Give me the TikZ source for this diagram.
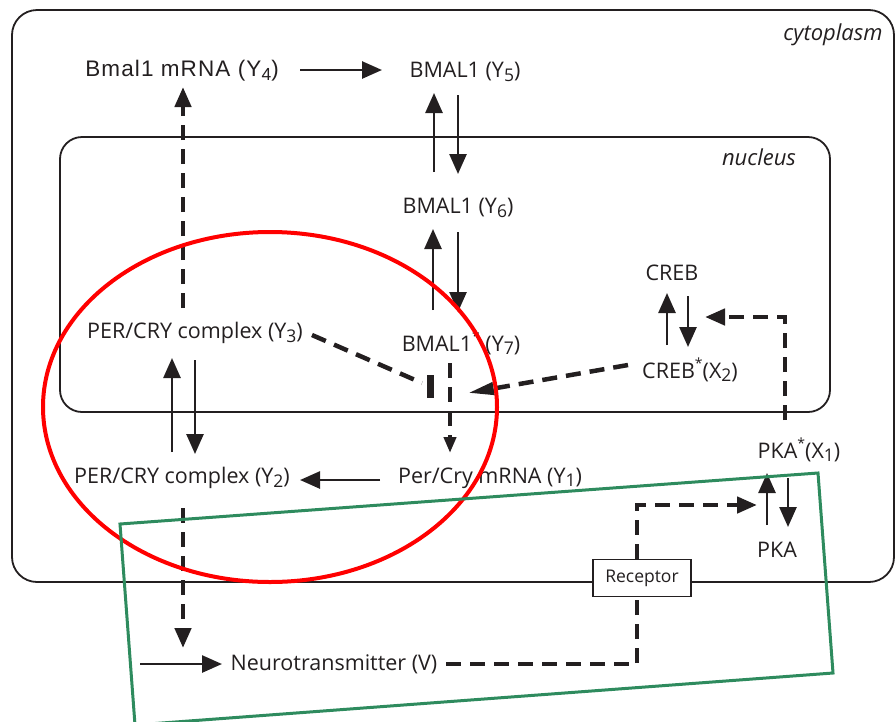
\documentclass[tikz,border=0pt]{standalone}
\usepackage{fontspec}
\setmainfont{Open Sans}
\newfontfamily\arialfont{Liberation Sans}[LetterSpace=5]
\usetikzlibrary{arrows.meta,calc}
\definecolor{ink}{HTML}{231F20}
\definecolor{grn}{HTML}{2E8B5E}
\newcommand\subsc[1]{\raisebox{-0.3ex}{\fontsize{17.5}{17.5}\selectfont #1}}
\newcommand\supst{\raisebox{0.85ex}{\fontsize{14}{14}\selectfont *}}
\begin{document}
\begin{tikzpicture}[x=1pt,y=-1pt,
  lbl/.style={inner sep=0pt, text=ink, font=\fontsize{21.5}{23}\selectfont},
  region/.style={draw=ink, line width=1.8pt},
  arr/.style={draw=ink, line width=2.6pt, -{Triangle[length=20pt,width=17pt]}},
  darr/.style={draw=ink, line width=4.5pt, dash pattern=on 15pt off 9pt, -{Triangle[length=20pt,width=16pt]}},
  dline/.style={draw=ink, line width=4.5pt, dash pattern=on 15pt off 9pt},
  thinhead/.style={draw=ink, line width=4.5pt, dash pattern=on 15pt off 9pt, -{Triangle[length=26pt,width=12pt]}},
]
\useasboundingbox (0,0) rectangle (896,721);
% compartments
\draw[region, rounded corners=25pt] (12,10) rectangle (894,582);
\draw[region, rounded corners=22pt] (60,137) rectangle (830,412);
\node[lbl, font=\fontsize{22}{24}\selectfont\itshape] (cyto) at (833,35) {cytoplasm};
\node[lbl, font=\fontsize{22}{24}\selectfont\itshape] (nuc) at (759,157) {nucleus};
% species
\node[lbl, font=\fontsize{22.5}{24}\selectfont\arialfont] (Y4) at (182,71) {Bmal1 mRNA (Y\subsc{4})};
\node[lbl] (Y5) at (465,72) {BMAL1 (Y\subsc{5})};
\node[lbl] (Y6) at (458,208) {BMAL1 (Y\subsc{6})};
\node[lbl] (Y7) at (461,343) {BMAL1\supst\ (Y\subsc{7})};
\node[lbl] (Y3) at (195,333) {PER/CRY complex (Y\subsc{3})};
\node[lbl] (Y2) at (182,478) {PER/CRY complex (Y\subsc{2})};
\node[lbl] (Y1) at (490,478) {Per/Cry mRNA (Y\subsc{1})};
\node[lbl] (V) at (334,664) {Neurotransmitter (V)};
\node[lbl] (X1) at (799,450) {PKA\supst(X\subsc{1})};
\node[lbl] (PKA) at (777,550) {PKA};
\node[lbl] (CREB) at (672,273) {CREB};
\node[lbl] (X2) at (690,370) {CREB\supst(X\subsc{2})};
\node[draw=ink, line width=1.5pt, fill=white, minimum width=98pt, minimum height=37pt,
      inner sep=0pt, text=ink, font=\fontsize{17.5}{18}\selectfont] (R) at (642,578) {Receptor};
\coordinate (vin) at ($(V)+(-194,0)$);
\coordinate (inh) at ($(Y7)+(-31,44)$);
% solid arrows
\draw[arr] ($(Y4)+(118,-1)$) -- ($(Y5)+(-83,-2)$);
\draw[arr] ($(Y6)+(-24,-36)$) -- ($(Y5)+(-31,21)$);
\draw[arr] ($(Y5)+(-7,23)$) -- ($(Y6)+(0,-34)$);
\draw[arr] ($(Y7)+(-28,-33)$) -- ($(Y6)+(-25,21)$);
\draw[arr] ($(Y6)+(0,24)$) -- ($(Y7)+(-3,-31)$);
\draw[arr] ($(Y2)+(-10,-26)$) -- ($(Y3)+(-23,25)$);
\draw[arr] ($(Y3)+(0,27)$) -- ($(Y2)+(13,-24)$);
\draw[arr] ($(Y1)+(-110,2)$) -- ($(Y2)+(118,2)$);
\draw[arr] (vin) -- ($(V)+(-112,0)$);
\draw[arr] ($(PKA)+(-10,-25)$) -- ($(X1)+(-32,23)$);
\draw[arr] ($(X1)+(-11,28)$) -- ($(PKA)+(11,-23)$);
\draw[arr] ($(X2)+(-23,-25)$) -- ($(CREB)+(-5,20)$);
\draw[arr] ($(CREB)+(16,23)$) -- ($(X2)+(-2,-23)$);
% dashed influences
\draw[darr] ($(Y3)+(-12,-25)$) -- ($(Y4)+(1,16)$);
\draw[darr, -{Triangle[length=16pt,width=12pt]}] ($(Y7)+(-11,20)$) -- ($(Y1)+(-40,-25)$);
\draw[darr] ($(Y2)+(1,30)$) -- ($(V)+(-151,-16)$);
\draw[dline] ($(Y3)+(117,2)$) -- ($(inh)+(-8,-4)$);
\draw[draw=ink, line width=7pt] ($(inh)+(0,-12)$) -- ($(inh)+(0,11)$);
\draw[thinhead] ($(X2)+(-62,-5)$) -- ($(Y7)+(7,50)$);
\draw[dline] ($(V)+(112,0)$) -| ([xshift=-5pt]R.south);
\draw[darr] ([xshift=-5pt]R.north) |- ($(X1)+(-42,55)$);
\draw[darr] ($(X1)+(-14,-30)$) |- ($(CREB)+(33,44)$);
% highlights
\draw[red, line width=4pt] (270,407) ellipse [x radius=227, y radius=175];
\draw[grn, line width=3pt] (120,524) -- (818,473) -- (833,673) -- (135,725) -- cycle;
\end{tikzpicture}
\end{document}
